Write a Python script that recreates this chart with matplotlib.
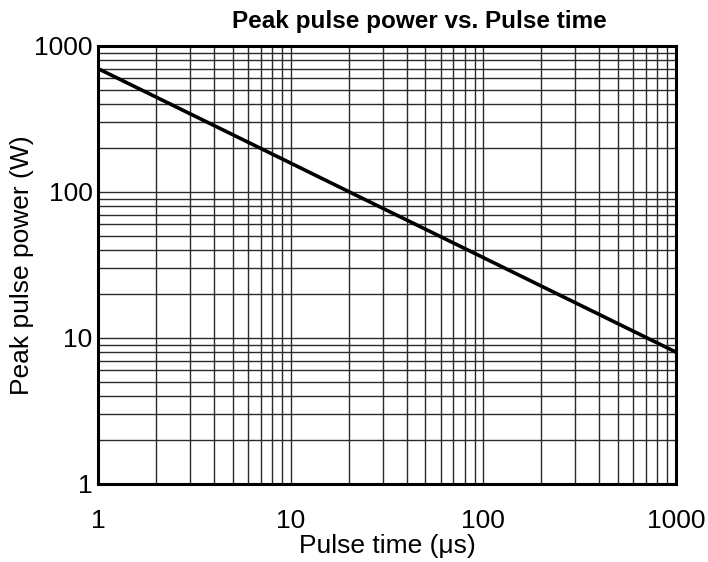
import numpy as np
import matplotlib.pyplot as plt
from matplotlib.ticker import LogLocator, NullFormatter, FixedLocator

plt.rcParams['font.family'] = ['Liberation Sans', 'DejaVu Sans']

# pulse time (us) and peak pulse power (W), read at the ends of the straight line
pulse_time = [1, 1000]
peak_power = [700, 8]
tick_vals = [1, 10, 100, 1000]
tick_labels = ['1', '10', '100', '1000']

fig = plt.figure(figsize=(7.08, 5.62), dpi=100)
ax = fig.add_axes([0.1384, 0.1388, 0.8164, 0.7794])

ax.set_xscale('log')
ax.set_yscale('log')
ax.set_xlim(1, 1000)
ax.set_ylim(1, 1000)

# grid: every decade and every minor step, all thin dark lines
ax.xaxis.set_major_locator(FixedLocator(tick_vals))
ax.yaxis.set_major_locator(FixedLocator(tick_vals))
ax.xaxis.set_minor_locator(LogLocator(base=10, subs=np.arange(2, 10)))
ax.yaxis.set_minor_locator(LogLocator(base=10, subs=np.arange(2, 10)))
ax.xaxis.set_minor_formatter(NullFormatter())
ax.yaxis.set_minor_formatter(NullFormatter())
ax.grid(True, which='both', color='#2a2a2a', linewidth=1.0)
ax.set_axisbelow(True)

ax.set_xticklabels(tick_labels)
ax.set_yticklabels(tick_labels)
ax.tick_params(which='both', length=0, labelsize=19)
ax.tick_params(axis='x', pad=18)
ax.tick_params(axis='y', pad=4)

ax.plot(pulse_time, peak_power, color='black', linewidth=2.6)

for s in ax.spines.values():
    s.set_linewidth(2.2)

ax.set_xlabel('Pulse time (μs)', fontsize=19, va='center')
ax.xaxis.set_label_coords(0.5, -0.141)
ax.set_ylabel('Peak pulse power (W)', fontsize=19, va='center')
ax.yaxis.set_label_coords(-0.131, 0.5)
fig.text(0.593, 0.961, 'Peak pulse power vs. Pulse time', ha='center', va='center',
         fontsize=17.5, fontweight='bold')

fig.savefig('out.png', dpi=100)
